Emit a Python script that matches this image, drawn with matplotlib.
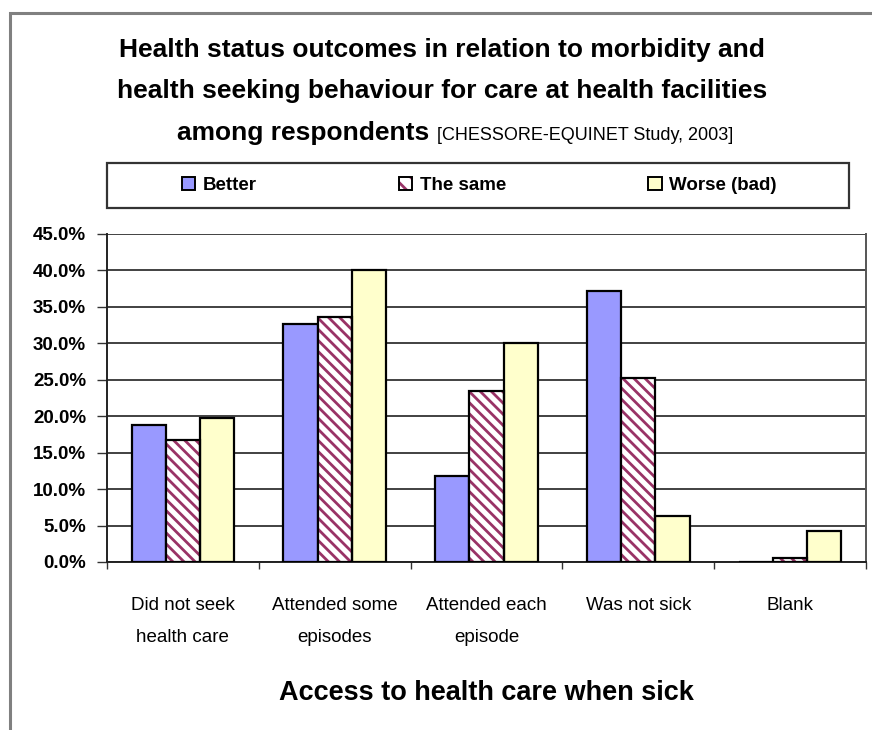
import matplotlib
matplotlib.use("Agg")
import matplotlib.pyplot as plt
import numpy as np
from matplotlib.patches import Patch, Rectangle
from matplotlib.legend_handler import HandlerTuple

# Data: share of respondents by perceived health status outcome
categories = ["Did not seek\nhealth care", "Attended some\nepisodes",
              "Attended each\nepisode", "Was not sick", "Blank"]
better = [18.8, 32.6, 11.8, 37.2, 0.0]
the_same = [16.8, 33.6, 23.5, 25.2, 0.5]
worse = [19.7, 40.0, 30.1, 6.3, 4.2]
y_ticks = [0, 5, 10, 15, 20, 25, 30, 35, 40, 45]
series_names = ["Better", "The same", "Worse (bad)"]

FONT = ["Liberation Sans", "DejaVu Sans"]
plt.rcParams["font.family"] = FONT
plt.rcParams["hatch.linewidth"] = 2.0

W, H = 872, 730
fig = plt.figure(figsize=(W / 100, H / 100), dpi=100)
fig.patch.set_facecolor("white")

def fx(px):
    return px / W

def fy(py):
    return 1 - py / H

# outer chart frame
fig.patches.append(Rectangle((fx(10), -0.05), 1.2, fy(13) + 0.05,
                             transform=fig.transFigure, fill=False,
                             edgecolor="#808080", linewidth=2.2))

ax = fig.add_axes([fx(107), fy(562), fx(866) - fx(107), fy(234) - fy(562)])

x = np.arange(len(categories))
bw = 0.225
c_better = "#9999FF"
c_same = "#993366"
c_worse = "#FFFFCC"
HATCH = "\\\\\\"

ax.bar(x - bw, better, bw, color=c_better, edgecolor="black", linewidth=1.6, zorder=3)
# hatched series: hatch in maroon, outline in black
ax.bar(x, the_same, bw, color="white", edgecolor=c_same, linewidth=0, hatch=HATCH, zorder=3)
ax.bar(x, the_same, bw, fill=False, edgecolor="black", linewidth=1.6, zorder=4)
ax.bar(x + bw, worse, bw, color=c_worse, edgecolor="black", linewidth=1.6, zorder=3)

ax.set_xlim(-0.5, len(categories) - 0.5)
ax.set_ylim(0, 45)
ax.set_yticks(y_ticks)
ax.set_yticklabels([f"{v:.1f}%" for v in y_ticks], fontsize=13.5, fontweight="bold")
ax.yaxis.grid(True, color="#333333", linewidth=1.3, zorder=0)
ax.set_axisbelow(True)

# category labels centred, tick marks at the boundaries between categories
ax.set_xticks(x)
ax.set_xticklabels(categories, fontsize=13.5, linespacing=2.2)
ax.tick_params(axis="x", length=0, pad=25)
ax.set_xticks(np.arange(len(categories) + 1) - 0.5, minor=True)
ax.tick_params(axis="x", which="minor", length=5, width=1.0, color="#333333", direction="out")
ax.tick_params(axis="y", length=7, width=1.0, color="#333333", direction="out", pad=8)

for side in ["left", "right", "bottom"]:
    ax.spines[side].set_color("#222222")
    ax.spines[side].set_linewidth(1.4)
ax.spines["top"].set_visible(False)
ax.spines["right"].set_color("#555555")

ax.set_xlabel("Access to health care when sick", fontsize=19.5, fontweight="bold",
              labelpad=24)

# title
title_lines = ["Health status outcomes in relation to morbidity and",
               "health seeking behaviour for care at health facilities"]
fig.text(fx(442), fy(57), title_lines[0], ha="center", va="baseline",
         fontsize=19, fontweight="bold")
fig.text(fx(442), fy(98), title_lines[1], ha="center", va="baseline",
         fontsize=19, fontweight="bold")
t3 = fig.text(fx(177), fy(140), "among respondents ", ha="left", va="baseline",
              fontsize=19, fontweight="bold")
fig.canvas.draw()
bb = t3.get_window_extent()
fig.text(bb.x1 / W, fy(140), "[CHESSORE-EQUINET Study, 2003]", ha="left", va="baseline",
         fontsize=13)

# legend with its own full-width frame
fig.patches.append(Rectangle((fx(107), fy(208)), fx(849) - fx(107), fy(163) - fy(208),
                             transform=fig.transFigure, facecolor="white",
                             edgecolor="#333333", linewidth=1.6))
h_better = Patch(facecolor=c_better, edgecolor="black", linewidth=1.4)
h_same = (Patch(facecolor="white", edgecolor=c_same, hatch="\\\\", linewidth=0),
          Patch(fill=False, edgecolor="black", linewidth=1.4))
h_worse = Patch(facecolor=c_worse, edgecolor="black", linewidth=1.4)
leg = fig.legend([h_better, h_same, h_worse], series_names, ncol=3,
                 handler_map={tuple: HandlerTuple(ndivide=1, pad=0)},
                 loc="center left", bbox_to_anchor=(fx(165), fy(185.5)),
                 frameon=False, handlelength=0.7, handleheight=0.7,
                 handletextpad=0.4, columnspacing=7.6,
                 prop={"weight": "bold", "size": 13.5})

fig.savefig("out.png", dpi=100, facecolor="white")
